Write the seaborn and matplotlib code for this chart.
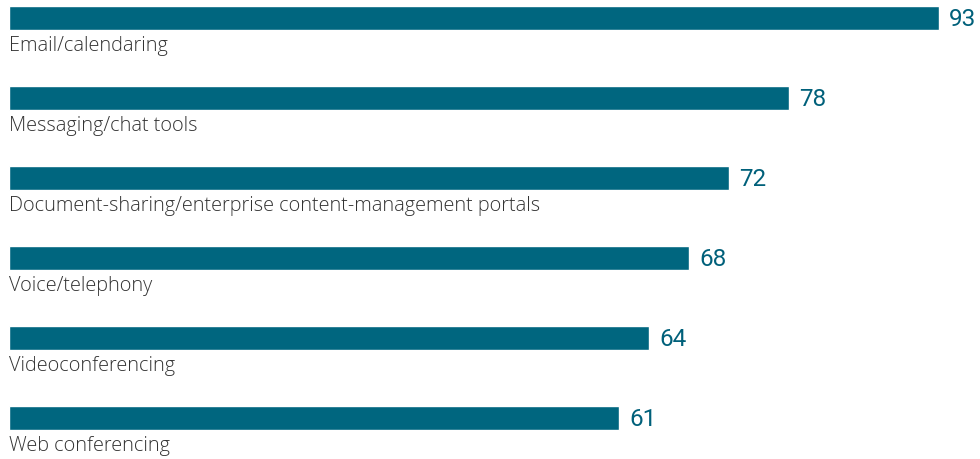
import matplotlib
matplotlib.use("Agg")
import matplotlib.pyplot as plt
import seaborn as sns
import pandas as pd

categories = ["Email/calendaring", "Messaging/chat tools",
              "Document-sharing/enterprise content-management portals",
              "Voice/telephony", "Videoconferencing", "Web conferencing"]
values = [93, 78, 72, 68, 64, 61]

df = pd.DataFrame({"cat": categories, "val": values})

sns.set_style("white")
plt.rcParams['font.family'] = ['Open Sans', 'DejaVu Sans']

W, H = 980, 459
fig = plt.figure(figsize=(W/100, H/100), dpi=100)
x0 = 9
ax = fig.add_axes([x0/W, 0, 1 - x0/W, 1])
bar_color = "#00667f"
sns.barplot(data=df, x="val", y="cat", orient="h", color=bar_color,
            width=0.3, saturation=1, ax=ax)
ax.set_xlim(0, (W - x0) / 10)
ax.set_ylim((H - 18) / 80, -18 / 80)
ax.axis("off")

for i, (c, v) in enumerate(zip(categories, values)):
    ax.text(v + 1.0, i + 0.02, str(v), va="center", ha="left", fontsize=17.5,
            color="#00607a", fontweight="normal", family=["Roboto", "DejaVu Sans"])
    ax.text(0.0, i + 0.22, c, va="top", ha="left", fontsize=14.3,
            color="#333333", fontweight="light")

fig.savefig("out.png", dpi=100)
